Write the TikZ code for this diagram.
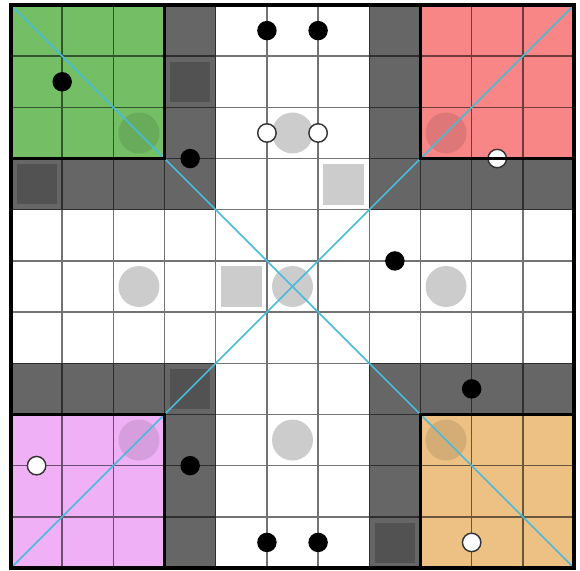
\documentclass[tikz,border=0pt]{standalone}
\usetikzlibrary{backgrounds}
\definecolor{boardgreen}{RGB}{116,191,102}
\definecolor{boardred}{RGB}{248,134,134}
\definecolor{boardpink}{RGB}{239,176,245}
\definecolor{boardorange}{RGB}{237,193,132}
\definecolor{boarddark}{RGB}{102,102,102}
\definecolor{boarddarker}{RGB}{82,82,82}
\definecolor{boardlight}{RGB}{204,204,204}
\definecolor{boardcyan}{RGB}{72,186,218}
\tikzset{
  darkband/.style={fill=boarddark},
  gridline/.style={draw=black,opacity=0.55,line width=0.8pt},
  thickborder/.style={draw=black,line width=1.9pt},
  diagline/.style={draw=boardcyan,line width=0.9pt},
  blackdot/.style={fill=black},
  whitedot/.style={fill=white,draw=black!80,line width=0.8pt},
  lightcircle/.style={fill=boardlight},
  tintcircle/.style={fill=black,fill opacity=0.1},
  lightsquare/.style={fill=boardlight},
  darksquare/.style={fill=boarddarker,draw=black!60!white,line width=0.4pt},
}
\begin{document}
\begin{tikzpicture}[x=1cm,y=1cm]
\useasboundingbox (-0.215,0.098) rectangle (11.117,-11.04);
\fill[white] (-0.215,0.098) rectangle (11.117,-11.04);
% dark bands
\fill[darkband] (3,0) rectangle (4,-4);
\fill[darkband] (0,-3) rectangle (4,-4);
\fill[darkband] (7,0) rectangle (8,-4);
\fill[darkband] (7,-3) rectangle (11,-4);
\fill[darkband] (0,-7) rectangle (4,-8);
\fill[darkband] (3,-7) rectangle (4,-11);
\fill[darkband] (7,-7) rectangle (11,-8);
\fill[darkband] (7,-7) rectangle (8,-11);
% coloured corners
\fill[boardgreen] (0,0) rectangle (3,-3);
\fill[boardred] (8,0) rectangle (11,-3);
\fill[boardpink] (0,-8) rectangle (3,-11);
\fill[boardorange] (8,-8) rectangle (11,-11);
% darker squares
\foreach \c/\r in {3/1,0/3,3/7,7/10}
  \draw[darksquare] (\c+0.1,-\r-0.1) rectangle (\c+0.9,-\r-0.9);
% light squares
\foreach \c/\r in {6/3,4/5}
  \fill[lightsquare] (\c+0.1,-\r-0.1) rectangle (\c+0.9,-\r-0.9);
% light circles
\foreach \c/\r in {5/2,2/5,5/5,8/5,5/8}
  \fill[lightcircle] (\c+0.5,-\r-0.5) circle (0.4);
\foreach \c/\r in {2/2,8/2,2/8,8/8}
  \fill[tintcircle] (\c+0.5,-\r-0.5) circle (0.4);
% grid
\draw[gridline] (0,-11) grid (11,0);
% diagonals
\draw[diagline] (0,0) -- (11,-11);
\draw[diagline] (11,0) -- (0,-11);
% dots
\foreach \p in {(5,-0.5),(6,-0.5),(1,-1.5),(3.5,-3),(7.5,-5),(9,-7.5),(3.5,-9),(5,-10.5),(6,-10.5)}
  \fill[blackdot] \p circle (0.19);
\foreach \p in {(5,-2.5),(6,-2.5),(9.5,-3),(0.5,-9),(9,-10.5)}
  \draw[whitedot] \p circle (0.18);
% thick borders
\draw[thickborder] (0,0) rectangle (3,-3);
\draw[thickborder] (8,0) rectangle (11,-3);
\draw[thickborder] (0,-8) rectangle (3,-11);
\draw[thickborder] (8,-8) rectangle (11,-11);
\draw[thickborder] (0,0) rectangle (11,-11);
\end{tikzpicture}
\end{document}
